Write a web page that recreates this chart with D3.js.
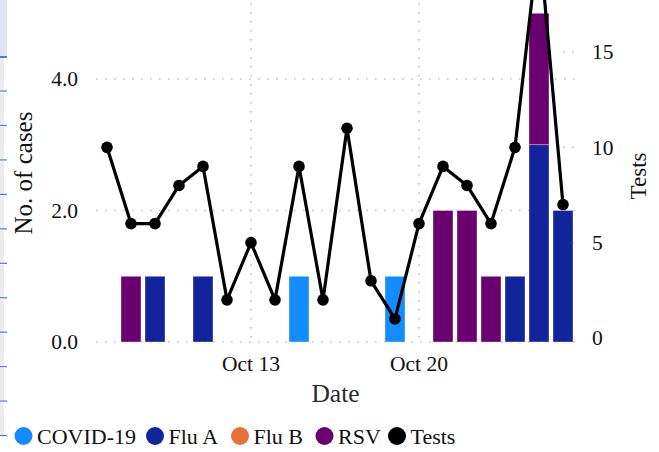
<!DOCTYPE html>
<html><head><meta charset="utf-8">
<script src="https://cdn.jsdelivr.net/npm/d3@7"></script>
<style>
html,body{margin:0;padding:0;background:#fff;}
svg{display:block;font-family:"Liberation Serif",serif;}
</style></head>
<body><svg id="c" width="659" height="452"></svg>
<script>
// ---- data ----
const dates = ["2023-10-07","2023-10-08","2023-10-09","2023-10-10","2023-10-11","2023-10-12","2023-10-13","2023-10-14","2023-10-15","2023-10-16","2023-10-17","2023-10-18","2023-10-19","2023-10-20","2023-10-21","2023-10-22","2023-10-23","2023-10-24","2023-10-25","2023-10-26"];
const covid = [0,0,0,0,0,0,0,0,1,0,0,0,1,0,0,0,0,0,0,0];
const fluA  = [0,0,1,0,1,0,0,0,0,0,0,0,0,0,0,0,0,1,3,2];
const fluB  = [0,0,0,0,0,0,0,0,0,0,0,0,0,0,0,0,0,0,0,0];
const rsv   = [0,1,0,0,0,0,0,0,0,0,0,0,0,0,2,2,1,0,2,0];
const tests = [10,6,6,8,9,2,5,2,9,2,11,3,1,6,9,8,6,10,21,7];
const seriesNames = ["COVID-19","Flu A","Flu B","RSV"];
const seriesColors = ["#148cff","#12239b","#e8703a","#6a0070"];
const leftTicks = [0,2,4];
const rightTicks = [0,5,10,15];
const xTickDates = ["2023-10-13","2023-10-20"];

const svg = d3.select("#c");
const parse = d3.utcParse("%Y-%m-%d");
const days = dates.map(parse);

// decorative left strip
const strip = svg.append("g");
strip.append("rect").attr("x",0).attr("y",0).attr("width",7).attr("height",57).attr("fill","#dfe5f6");
const stripYs = d3.range(12).map(i => 57 + i*34.45);
stripYs.forEach((y,i) => {
  if (i < 11) strip.append("rect").attr("x",0).attr("y",y+1).attr("width",4).attr("height",33).attr("fill","#ececec");
  strip.append("rect").attr("x",0).attr("y",y-1).attr("width",7).attr("height", i===0?2:1.2).attr("fill","#4f7bd0");
});

// scales
const x = d3.scaleUtc().domain([days[0], days[days.length-1]]).range([107, 563]);
const yL = d3.scaleLinear().domain([0,4]).range([342, 79]);
const yR = d3.scaleLinear().domain([0,15]).range([338, 52]);
const plotL = 96, plotR = 575;

const gridStyle = s => s.attr("stroke","#c4c4c4").attr("stroke-width",1.6).attr("stroke-dasharray","1.6,7.4").attr("fill","none");

// horizontal grid (left axis)
svg.append("g").selectAll("line").data(leftTicks).join("line")
  .attr("x1", plotL).attr("x2", plotR).attr("y1", d=>yL(d)).attr("y2", d=>yL(d)).call(gridStyle);
// vertical grid
svg.append("g").selectAll("line").data(xTickDates.map(parse)).join("line")
  .attr("x1", d=>x(d)).attr("x2", d=>x(d)).attr("y1", 3).attr("y2", 342).call(gridStyle);
// right axis short ticks
svg.append("g").selectAll("line").data(rightTicks).join("line")
  .attr("x1", 563).attr("x2", plotR).attr("y1", d=>yR(d)).attr("y2", d=>yR(d)).call(gridStyle);

// stacked bars
const rows = days.map((d,i) => ({date:d, "COVID-19":covid[i], "Flu A":fluA[i], "Flu B":fluB[i], "RSV":rsv[i]}));
const stack = d3.stack().keys(seriesNames)(rows);
const bw = 20;
svg.append("g").selectAll("g").data(stack).join("g")
  .attr("fill", (d,i)=>seriesColors[i])
  .selectAll("rect").data(d=>d.filter(v=>v[1]-v[0]>0)).join("rect")
  .attr("x", d=>x(d.data.date)-bw/2).attr("width", bw)
  .attr("y", d=>yL(d[1])).attr("height", d=>yL(d[0])-yL(d[1]))
  .attr("stroke","#ffffff").attr("stroke-opacity",0.6).attr("stroke-width",0.6);

// tests line
const line = d3.line().x((d,i)=>x(days[i])).y(d=>yR(d));
svg.append("path").datum(tests).attr("d", line).attr("fill","none").attr("stroke","#000").attr("stroke-width",3.2).attr("stroke-linejoin","round");
svg.append("g").selectAll("circle").data(tests).join("circle")
  .attr("cx",(d,i)=>x(days[i])).attr("cy",d=>yR(d)).attr("r",5.8).attr("fill","#000");

// axes labels
const fmtL = d3.format(".1f");
svg.append("g").selectAll("text").data(leftTicks).join("text")
  .attr("x",78).attr("y",d=>yL(d)).attr("dy","0.34em").attr("text-anchor","end")
  .attr("font-size",21.5).attr("fill","#111").text(d=>fmtL(d));
svg.append("g").selectAll("text").data(rightTicks).join("text")
  .attr("x",592).attr("y",d=>yR(d)).attr("dy","0.34em").attr("text-anchor","start")
  .attr("font-size",21.5).attr("fill","#111").text(d=>d);
const fmtX = d3.utcFormat("%b %-d");
svg.append("g").selectAll("text").data(xTickDates.map(parse)).join("text")
  .attr("x",d=>x(d)).attr("y",371).attr("text-anchor","middle")
  .attr("font-size",21.5).attr("fill","#111").text(d=>fmtX(d));

// titles
svg.append("text").attr("transform","translate(32,173) rotate(-90)").attr("text-anchor","middle")
  .attr("font-size",25).attr("fill","#111").text("No. of cases");
svg.append("text").attr("transform","translate(646,176) rotate(-90)").attr("text-anchor","middle")
  .attr("font-size",23).attr("fill","#111").text("Tests");
svg.append("text").attr("x",335.5).attr("y",402).attr("text-anchor","middle")
  .attr("font-size",25.5).attr("fill","#2a2a2a").text("Date");

// legend
const legNames = seriesNames.concat(["Tests"]);
const legColors = seriesColors.concat(["#000"]);
const legX = [23.5, 155, 240, 324.5, 397];
const lg = svg.append("g");
legNames.forEach((n,i)=>{
  lg.append("circle").attr("cx",legX[i]).attr("cy",436).attr("r",9).attr("fill",legColors[i]);
  lg.append("text").attr("x",legX[i]+13.5).attr("y",444).attr("font-size",22).attr("fill","#111").text(n);
});
</script></body></html>
